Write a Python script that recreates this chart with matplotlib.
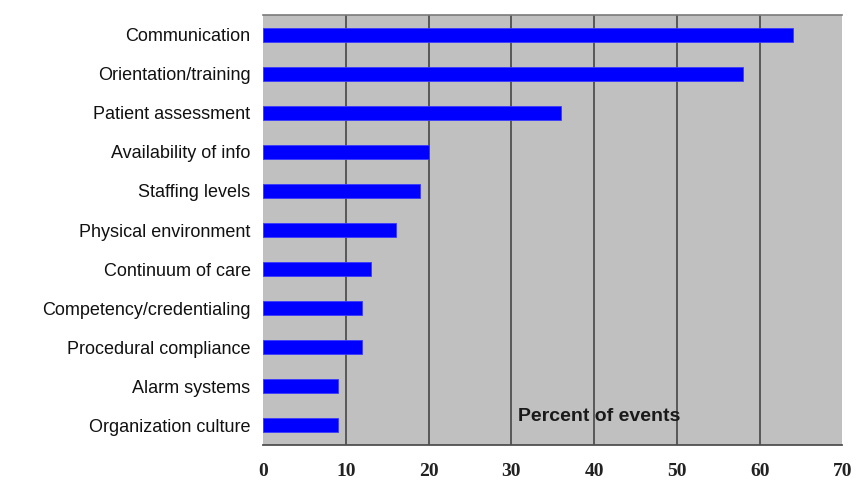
import matplotlib.pyplot as plt

categories = ["Communication", "Orientation/training", "Patient assessment",
              "Availability of info", "Staffing levels", "Physical environment",
              "Continuum of care", "Competency/credentialing",
              "Procedural compliance", "Alarm systems", "Organization culture"]
percents = [64, 58, 36, 20, 19, 16, 13, 12, 12, 9, 9]
xticks = [0, 10, 20, 30, 40, 50, 60, 70]

fig = plt.figure(figsize=(8.57, 4.9), dpi=100)
ax = fig.add_axes([0.307, 0.092, 0.676, 0.877])
ax.set_facecolor("#c0c0c0")

ypos = list(range(len(categories)))
ax.barh(ypos, percents, height=0.36, color="#0000ff", edgecolor="#3a3aff", linewidth=0.6, zorder=3)

ax.set_ylim(len(categories) - 0.5, -0.5)
ax.set_xlim(0, 70)
ax.set_yticks(ypos)
ax.set_yticklabels(categories, fontsize=13, family="Liberation Sans", color="#111111")
ax.set_xticks(xticks)
ax.set_xticklabels([str(t) for t in xticks], fontsize=14, family="Liberation Serif",
                   fontweight="bold", color="#222222")
ax.tick_params(axis="y", length=0, pad=9)
ax.tick_params(axis="x", length=0, pad=13)

# vertical grid lines
for t in xticks[1:-1]:
    ax.axvline(t, color="#505050", linewidth=1.3, zorder=1)

for side in ["left", "right"]:
    ax.spines[side].set_visible(False)
ax.spines["top"].set_color("#7a7a7a")
ax.spines["top"].set_linewidth(1.2)
ax.spines["bottom"].set_color("#505050")
ax.spines["bottom"].set_linewidth(1.3)

ax.text(0.58, 0.067, "Percent of events", transform=ax.transAxes, ha="center", va="center",
        fontsize=14, fontweight="bold", family="Liberation Sans", color="#1a1a1a", zorder=4)

fig.savefig("out.png", dpi=100)
